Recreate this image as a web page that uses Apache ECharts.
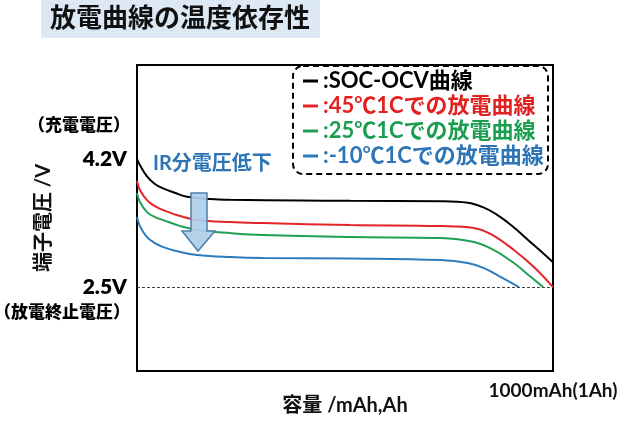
<!DOCTYPE html>
<html><head><meta charset="utf-8">
<script src="https://cdn.jsdelivr.net/npm/echarts@6/dist/echarts.min.js"></script>
<style>html,body{margin:0;padding:0;background:#fff}#c{width:627px;height:429px}</style>
</head><body><div id="c"></div>
<script>
const seriesNames = ['SOC-OCV曲線', '45℃1Cでの放電曲線', '25℃1Cでの放電曲線', '-10℃1Cでの放電曲線'];
// capacity (mAh) positions and terminal voltage (V)
const ocvX = [0, 7, 24, 43, 63, 92, 120, 176, 224, 393, 513, 730, 795, 834, 863, 892, 916, 940, 971, 1000];
const ocvV = [4.20, 4.12, 3.97, 3.87, 3.81, 3.75, 3.70, 3.67, 3.66, 3.65, 3.645, 3.64, 3.62, 3.555, 3.47, 3.355, 3.245, 3.125, 2.975, 2.83];
const t45X = [0, 7, 24, 43, 63, 104, 145, 224, 304, 513, 730, 810, 851, 906, 954, 1000];
const t45V = [3.91, 3.79, 3.655, 3.576, 3.523, 3.443, 3.39, 3.363, 3.35, 3.324, 3.31, 3.284, 3.204, 2.992, 2.766, 2.50];
const t25X = [0, 7, 24, 43, 63, 104, 145, 224, 304, 513, 730, 810, 858, 906, 947, 976];
const t25V = [3.748, 3.629, 3.496, 3.43, 3.39, 3.31, 3.257, 3.217, 3.191, 3.164, 3.151, 3.098, 2.992, 2.819, 2.633, 2.50];
const tm10X = [0, 7, 24, 43, 63, 104, 145, 224, 304, 513, 730, 795, 834, 875, 918];
const tm10V = [3.43, 3.31, 3.164, 3.084, 3.031, 2.965, 2.925, 2.898, 2.885, 2.88, 2.859, 2.819, 2.752, 2.633, 2.50];
const yTicks = [2.5, 4.2];
const xTicks = [1000];
const cutoffV = 2.5;

const lineColors = ['#000000', '#e3242b', '#1fa055', '#2b7bbd'];
const textColors = ['#000000', '#e3201f', '#1a9e50', '#2e75b6'];
const FF = 'Lato, "Noto Sans CJK JP", sans-serif';

function pairs(xs, ys) { return xs.map((x, i) => [x, ys[i]]); }
const allData = [pairs(ocvX, ocvV), pairs(t45X, t45V), pairs(t25X, t25V), pairs(tm10X, tm10V)];

const chart = echarts.init(document.getElementById('c'), null, {renderer: 'canvas'});
const series = allData.map((d, i) => ({
  name: seriesNames[i],
  type: 'line',
  data: d,
  symbol: 'none',
  smooth: 0.4,
  color: lineColors[i],
  lineStyle: {width: 2, color: lineColors[i]},
  z: 3,
  markLine: i === 0 ? {
    silent: true, symbol: ['none', 'none'], label: {show: false},
    lineStyle: {type: [3, 2], color: '#444', width: 1},
    data: [{yAxis: cutoffV}]
  } : undefined
}));

chart.setOption({
  animation: false,
  backgroundColor: '#fff',
  title: {
    text: '放電曲線の温度依存性', left: 41, top: 0,
    backgroundColor: '#dce9f5', padding: [5, 10, 6, 9],
    textStyle: {fontSize: 26, fontWeight: 'bold', color: '#111', fontFamily: FF, lineHeight: 27}
  },
  grid: {left: 137, right: 74, top: 65, bottom: 58, show: true, borderColor: '#000', borderWidth: 2,
    containLabel: false, outerBoundsMode: 'none'},
  legend: {
    orient: 'vertical', left: 303, top: 70, padding: 0, itemGap: 3,
    itemWidth: 15, itemHeight: 3, icon: 'rect', z: 10,
    formatter: n => ':' + n,
    textStyle: {fontSize: 22, fontWeight: 'bold', fontFamily: FF, lineHeight: 22},
    data: seriesNames.map((n, i) => ({name: n, textStyle: {color: textColors[i]}}))
  },
  xAxis: {
    type: 'value', min: 0, max: 1000,
    axisLine: {show: true, lineStyle: {color: '#000', width: 2}},
    axisTick: {show: false}, splitLine: {show: false},
    axisLabel: {customValues: xTicks, formatter: v => v + 'mAh(1Ah)', margin: 10,
      fontSize: 19, fontWeight: 'bold', color: '#111', fontFamily: FF},
    name: '容量 /mAh,Ah', nameLocation: 'middle', nameGap: 25, nameMoveOverlap: false,
    nameTextStyle: {fontSize: 20, fontWeight: 'bold', color: '#111', fontFamily: FF}
  },
  yAxis: {
    type: 'value', min: 1.385, max: 5.45,
    axisLine: {show: true, lineStyle: {color: '#000', width: 2}},
    axisTick: {show: false}, splitLine: {show: false},
    axisLabel: {
      customValues: yTicks, margin: 10,
      fontSize: 21, fontWeight: 800, color: '#000', fontFamily: FF,
      formatter: v => v + 'V'
    },
    name: '端子電圧 /V', nameLocation: 'middle', nameRotate: 90, nameGap: 83, nameMoveOverlap: false,
    nameTextStyle: {fontSize: 20, fontWeight: 'bold', color: '#111', fontFamily: FF}
  },
  graphic: [
    {type: 'rect', z: 5, shape: {x: 293, y: 66, width: 255, height: 108, r: 10},
     style: {fill: '#fff', stroke: '#000', lineWidth: 2, lineDash: [6, 4]}},
    {type: 'text', z: 6, x: 153, y: 164,
     style: {text: 'IR分電圧低下', fill: '#2e75b6', font: 'bold 20px ' + FF, verticalAlign: 'middle'}},
    {type: 'polygon', z: 6,
     shape: {points: [[191, 193], [207, 193], [207, 231], [215, 231], [198, 251], [182, 231], [191, 231]]},
     style: {fill: 'rgba(176,206,232,0.92)', stroke: '#4e7fab', lineWidth: 1.5}},
    {type: 'text', z: 6, x: 130, y: 126,
     style: {text: '（充電電圧）', fill: '#000', font: '900 17px ' + FF, align: 'right', verticalAlign: 'middle'}},
    {type: 'text', z: 6, x: 130, y: 313,
     style: {text: '（放電終止電圧）', fill: '#000', font: '900 17px ' + FF, align: 'right', verticalAlign: 'middle'}}
  ],
  series: series
});
</script></body></html>
